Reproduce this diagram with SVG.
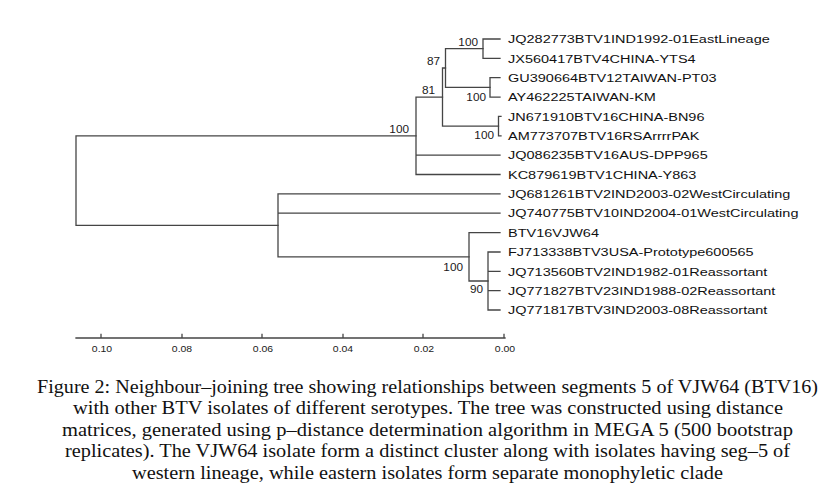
<svg xmlns="http://www.w3.org/2000/svg" width="829" height="499" viewBox="0 0 829 499">
<style>
.ln{fill:none;stroke:#454545;stroke-width:1.3;stroke-linecap:square}
.lf{font-family:"Liberation Sans",Arial,sans-serif;font-size:11.5px;fill:#111}
.bs{font-family:"Liberation Sans",Arial,sans-serif;font-size:10px;fill:#1a1a1a;text-anchor:end}
.ax{font-family:"Liberation Sans",Arial,sans-serif;font-size:9.5px;fill:#1a1a1a;text-anchor:middle}
.cap{font-family:"Liberation Serif","Times New Roman",serif;font-size:18px;fill:#111}
</style>
<rect width="829" height="499" fill="#fff"/>
<g id="connectors" class="ln">
<path d="M76,135.8V225.4M76,135.8H416M76,225.4H278"/>
<path d="M416,97.1V174.5M416,97.1H442.5M416,155.2H500M416,174.5H500"/>
<path d="M442.5,68V126.1M442.5,68H445.5M442.5,126.1H498.5"/>
<path d="M445.5,48.7V87.4M445.5,48.7H483M445.5,87.4H490"/>
<path d="M483,39V58.4M483,39H500M483,58.4H500"/>
<path d="M490,77.7V97.1M490,77.7H500M490,97.1H500"/>
<path d="M498.5,116.4V135.8M498.5,116.4H501M498.5,135.8H501"/>
<path d="M278,193.9V256.8M278,193.9H500M278,213.2H500M278,256.8H469"/>
<path d="M469,232.6V281M469,232.6H500M469,281H488"/>
<path d="M488,252V310M488,252H500M488,271.3H500M488,290.7H500M488,310H500"/>
</g>
<g id="bootstrap">
<text class="bs" transform="matrix(1.18 0 0 1 478 46)">100</text>
<text class="bs" transform="matrix(1.18 0 0 1 440 64.5)">87</text>
<text class="bs" transform="matrix(1.18 0 0 1 435 93.5)">81</text>
<text class="bs" transform="matrix(1.18 0 0 1 486 101)">100</text>
<text class="bs" transform="matrix(1.18 0 0 1 494 139)">100</text>
<text class="bs" transform="matrix(1.18 0 0 1 409 133)">100</text>
<text class="bs" transform="matrix(1.18 0 0 1 463 271)">100</text>
<text class="bs" transform="matrix(1.18 0 0 1 483 293)">90</text>
</g>
<g id="leaf-JQ282773"><text class="lf" transform="matrix(1.26 0 0 1 508 43.2)">JQ282773BTV1IND1992-01EastLineage</text></g>
<g id="leaf-JX560417"><text class="lf" transform="matrix(1.26 0 0 1 508 62.6)">JX560417BTV4CHINA-YTS4</text></g>
<g id="leaf-GU390664"><text class="lf" transform="matrix(1.26 0 0 1 508 81.9)">GU390664BTV12TAIWAN-PT03</text></g>
<g id="leaf-AY462225"><text class="lf" transform="matrix(1.26 0 0 1 508 101.3)">AY462225TAIWAN-KM</text></g>
<g id="leaf-JN671910"><text class="lf" transform="matrix(1.26 0 0 1 508 120.6)">JN671910BTV16CHINA-BN96</text></g>
<g id="leaf-AM773707"><text class="lf" transform="matrix(1.26 0 0 1 508 140)">AM773707BTV16RSArrrrPAK</text></g>
<g id="leaf-JQ086235"><text class="lf" transform="matrix(1.26 0 0 1 508 159.4)">JQ086235BTV16AUS-DPP965</text></g>
<g id="leaf-KC879619"><text class="lf" transform="matrix(1.26 0 0 1 508 178.7)">KC879619BTV1CHINA-Y863</text></g>
<g id="leaf-JQ681261"><text class="lf" transform="matrix(1.26 0 0 1 508 198.1)">JQ681261BTV2IND2003-02WestCirculating</text></g>
<g id="leaf-JQ740775"><text class="lf" transform="matrix(1.26 0 0 1 508 217.4)">JQ740775BTV10IND2004-01WestCirculating</text></g>
<g id="leaf-BTV16VJW64"><text class="lf" transform="matrix(1.26 0 0 1 508 236.8)">BTV16VJW64</text></g>
<g id="leaf-FJ713338"><text class="lf" transform="matrix(1.26 0 0 1 508 256.2)">FJ713338BTV3USA-Prototype600565</text></g>
<g id="leaf-JQ713560"><text class="lf" transform="matrix(1.26 0 0 1 508 275.5)">JQ713560BTV2IND1982-01Reassortant</text></g>
<g id="leaf-JQ771827"><text class="lf" transform="matrix(1.26 0 0 1 508 294.9)">JQ771827BTV23IND1988-02Reassortant</text></g>
<g id="leaf-JQ771817"><text class="lf" transform="matrix(1.26 0 0 1 508 314.2)">JQ771817BTV3IND2003-08Reassortant</text></g>
<g id="scale-axis">
<path class="ln" d="M76,338H505M101,334.5V338M182,334.5V338M262,334.5V338M343,334.5V338M423,334.5V338M504,334.5V338"/>
<text class="ax" transform="matrix(1.1 0 0 1 102 352)">0.10</text>
<text class="ax" transform="matrix(1.1 0 0 1 182 352)">0.08</text>
<text class="ax" transform="matrix(1.1 0 0 1 263 352)">0.06</text>
<text class="ax" transform="matrix(1.1 0 0 1 343 352)">0.04</text>
<text class="ax" transform="matrix(1.1 0 0 1 424 352)">0.02</text>
<text class="ax" transform="matrix(1.1 0 0 1 505 352)">0.00</text>
</g>
<g id="caption">
<text class="cap" x="37" y="393" textLength="781" lengthAdjust="spacingAndGlyphs">Figure 2: Neighbour–joining tree showing relationships between segments 5 of VJW64 (BTV16)</text>
<text class="cap" x="73" y="414" textLength="710" lengthAdjust="spacingAndGlyphs">with other BTV isolates of different serotypes. The tree was constructed using distance</text>
<text class="cap" x="62" y="435.5" textLength="731" lengthAdjust="spacingAndGlyphs">matrices, generated using p–distance determination algorithm in MEGA 5 (500 bootstrap</text>
<text class="cap" x="65" y="457" textLength="725" lengthAdjust="spacingAndGlyphs">replicates). The VJW64 isolate form a distinct cluster along with isolates having seg–5 of</text>
<text class="cap" x="132" y="478.5" textLength="591" lengthAdjust="spacingAndGlyphs">western lineage, while eastern isolates form separate monophyletic clade</text>
</g>
</svg>
